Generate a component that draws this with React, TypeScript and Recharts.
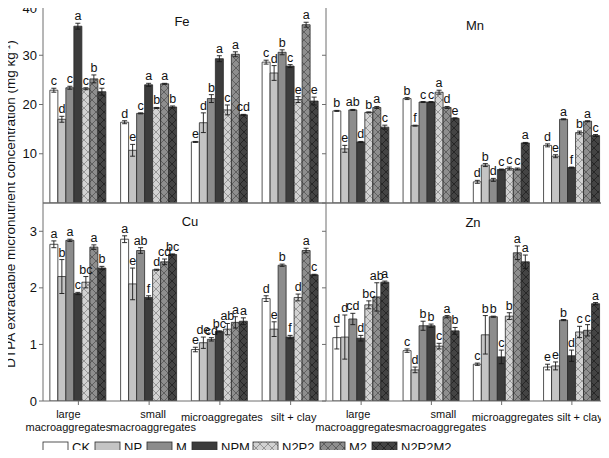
import React from "react";
import { BarChart, Bar, XAxis, YAxis, ErrorBar, LabelList, ReferenceLine } from "recharts";

const categories = ["large macroaggregates", "small macroaggregates", "microaggregates", "silt + clay"];
const categoryLines = [["large", "macroaggregates"], ["small", "macroaggregates"], ["microaggregates"], ["silt + clay"]];
const treatments = ["CK", "NP", "M", "NPM", "N2P2", "M2", "N2P2M2"];

// rows = treatment, columns = aggregate class
const feMean = [
  [22.9, 16.4, 12.4, 28.6],
  [17.0, 10.7, 16.3, 26.4],
  [23.4, 18.2, 21.2, 30.6],
  [35.9, 24.0, 29.3, 27.8],
  [23.2, 19.3, 18.9, 21.0],
  [25.2, 24.2, 30.2, 36.2],
  [22.6, 19.5, 17.9, 20.7],
];
const feErr = [
  [0.4, 0.3, 0.1, 0.4],
  [0.6, 1.2, 2.0, 1.5],
  [0.3, 0.1, 0.8, 0.5],
  [0.6, 0.3, 0.6, 0.3],
  [0.2, 0.1, 1.0, 0.6],
  [0.8, 0.1, 0.5, 0.5],
  [0.7, 0.2, 0.1, 0.8],
];
const feLetters = [
  ["c", "d", "e", "c"],
  ["d", "e", "d", "d"],
  ["c", "c", "b", "b"],
  ["a", "a", "a", "c"],
  ["c", "b", "c", "e"],
  ["b", "a", "a", "a"],
  ["c", "b", "cd", "e"],
];

const mnMean = [
  [18.7, 21.2, 4.3, 11.7],
  [11.0, 15.7, 7.7, 9.5],
  [18.9, 20.5, 4.7, 17.0],
  [12.4, 20.5, 6.8, 7.2],
  [18.4, 22.5, 7.0, 14.3],
  [19.4, 19.4, 6.9, 16.6],
  [15.4, 17.2, 12.2, 13.7],
];
const mnErr = [
  [0.1, 0.2, 0.3, 0.3],
  [0.7, 0.1, 0.3, 0.3],
  [0.1, 0.1, 0.3, 0.1],
  [0.1, 0.1, 0.1, 0.1],
  [0.1, 0.4, 0.3, 0.3],
  [0.2, 0.2, 0.2, 0.1],
  [0.4, 0.1, 0.1, 0.2],
];
const mnLetters = [
  ["b", "b", "d", "d"],
  ["e", "f", "b", "e"],
  ["ab", "c", "d", "a"],
  ["d", "c", "c", "f"],
  ["b", "a", "c", "b"],
  ["a", "d", "c", "a"],
  ["c", "e", "a", "c"],
];

const cuMean = [
  [2.77, 2.86, 0.91, 1.81],
  [2.2, 2.07, 1.03, 1.27],
  [2.84, 2.66, 1.09, 2.4],
  [1.9, 1.83, 1.23, 1.13],
  [2.1, 2.32, 1.27, 1.83],
  [2.72, 2.46, 1.39, 2.66],
  [2.35, 2.59, 1.41, 2.23],
];
const cuErr = [
  [0.06, 0.06, 0.04, 0.05],
  [0.3, 0.28, 0.1, 0.13],
  [0.02, 0.05, 0.03, 0.02],
  [0.02, 0.03, 0.01, 0.03],
  [0.1, 0.01, 0.1, 0.06],
  [0.04, 0.05, 0.1, 0.04],
  [0.03, 0.01, 0.06, 0.01],
];
const cuLetters = [
  ["a", "a", "e", "d"],
  ["b", "e", "de", "e"],
  ["a", "ab", "cd", "b"],
  ["c", "f", "bc", "f"],
  ["bc", "d", "ab", "d"],
  ["a", "cd", "a", "a"],
  ["b", "bc", "a", "c"],
];

const znMean = [
  [1.12, 0.89, 0.65, 0.6],
  [1.13, 0.55, 1.17, 0.62],
  [1.45, 1.33, 1.49, 1.43],
  [1.11, 1.33, 0.78, 0.8],
  [1.7, 0.97, 1.5, 1.22],
  [1.84, 1.49, 2.62, 1.25],
  [2.1, 1.24, 2.46, 1.72],
];
const znErr = [
  [0.2, 0.03, 0.02, 0.05],
  [0.39, 0.05, 0.34, 0.07],
  [0.1, 0.08, 0.01, 0.01],
  [0.05, 0.03, 0.12, 0.1],
  [0.07, 0.05, 0.06, 0.1],
  [0.25, 0.02, 0.12, 0.1],
  [0.02, 0.06, 0.12, 0.02],
];
const znLetters = [
  ["d", "c", "c", "e"],
  ["d", "d", "b", "e"],
  ["cd", "b", "b", "b"],
  ["d", "b", "c", "d"],
  ["bc", "c", "b", "c"],
  ["ab", "a", "a", "c"],
  ["a", "b", "a", "a"],
];

const fills = ["#ffffff", "#c4c4c4", "#8c8c8c", "#3c3c3c", "url(#hatchLight)", "url(#hatchMid)", "url(#hatchDark)"];
const FONT = "'Liberation Sans', Arial, Helvetica, sans-serif";
const AXIS = "#6e6e6e";
const legendX = [43, 95, 147, 192, 253, 320, 372];

function makeRows(mean: number[][], err: number[][]) {
  return categories.map((cat, ci) => {
    const row: any = { cat };
    treatments.forEach((_, ti) => {
      row[`v${ti}`] = mean[ti][ci];
      row[`e${ti}`] = err[ti][ci];
    });
    return row;
  });
}

const letterContent = (mean: number[][], err: number[][], letters: string[][], ti: number) => (p: any) => {
  const vb = p.viewBox && p.viewBox.width != null ? p.viewBox : p;
  const idx = p.index;
  if (idx == null || vb.height == null) return null;
  const v = mean[ti][idx];
  const px = v > 0 ? vb.height / v : 0;
  const top = vb.y - err[ti][idx] * px;
  return (
    <text x={vb.x + vb.width / 2} y={top - 3} textAnchor="middle" fontSize={12.5} fontFamily={FONT} fill="#111">
      {letters[ti][idx]}
    </text>
  );
};

const makeCatTick = (offsets: number[]) => (p: any) => {
  const ci = categories.indexOf(p.payload.value);
  const lines = categoryLines[ci] || [];
  const x = p.x + (offsets[ci] || 0);
  return (
    <g>
      {lines.map((ln, li) => (
        <text key={li} x={x} y={p.y + (lines.length > 1 ? 11 + li * 12.5 : 14)} textAnchor="middle" fontSize={11} fontFamily={FONT} fill="#111">
          {ln}
        </text>
      ))}
    </g>
  );
};

function Panel(props: any) {
  const { left, top, mean, err, letters, domain, ticks, showYLabels, bottom, tickOffsets, rightBorder } = props;
  const data = makeRows(mean, err);
  const yw = showYLabels ? 43 : 8;
  const width = yw + (showYLabels ? 283 : 281) + (rightBorder ? 1 : 0);
  const xh = bottom ? 40 : 1;
  const height = 6 + (bottom ? 198 : 197) + xh;
  return (
    <div style={{ position: "absolute", left, top }}>
      <BarChart width={width} height={height} data={data} margin={{ top: 6, right: 0, bottom: 0, left: 0 }} barCategoryGap="9.7%" barGap={0}>
        <XAxis
          dataKey="cat"
          height={xh}
          stroke={AXIS}
          tickSize={4}
          tickLine={bottom ? { stroke: AXIS } : false}
          tick={bottom ? makeCatTick(tickOffsets) : false}
          interval={0}
        />
        <YAxis
          yAxisId="l"
          width={yw}
          domain={domain}
          ticks={ticks}
          stroke={AXIS}
          tickSize={4}
          tickMargin={2}
          tickLine={{ stroke: AXIS }}
          tick={{ fontSize: 13, fill: "#111", fontFamily: FONT }}
          tickFormatter={(v: number) => (showYLabels ? String(v) : "")}
          allowDataOverflow
        />
        {rightBorder && (
          <YAxis yAxisId="r" orientation="right" width={1} domain={[0, 1]} ticks={[0, 1]} stroke={AXIS} tick={false} tickLine={false} />
        )}
        <ReferenceLine yAxisId="l" y={domain[1]} stroke={AXIS} strokeWidth={1} ifOverflow="visible" />
        {treatments.map((t, ti) => (
          <Bar key={t} yAxisId="l" dataKey={`v${ti}`} fill={fills[ti]} stroke="#2a2a2a" strokeWidth={0.8} isAnimationActive={false}>
            <ErrorBar dataKey={`e${ti}`} width={2.5} stroke="#1a1a1a" strokeWidth={0.9} direction="y" />
            <LabelList dataKey={`v${ti}`} content={letterContent(mean, err, letters, ti)} />
          </Bar>
        ))}
      </BarChart>
    </div>
  );
}

export default function App() {
  return (
    <div style={{ position: "relative", width: 609, height: 458, fontFamily: FONT, background: "#fff", margin: -8 }}>
      <style>{".recharts-surface{overflow:visible}"}</style>
      <svg width={609} height={458} style={{ position: "absolute", left: 0, top: 0 }}>
        <defs>
          <pattern id="hatchLight" width={8} height={8} patternUnits="userSpaceOnUse">
            <rect width={8} height={8} fill="#d2d2d2" />
            <path d="M0,0 L8,8 M8,0 L0,8" stroke="#7c7c7c" strokeWidth={0.7} />
          </pattern>
          <pattern id="hatchMid" width={8} height={8} patternUnits="userSpaceOnUse">
            <rect width={8} height={8} fill="#8e8e8e" />
            <path d="M0,0 L8,8 M8,0 L0,8" stroke="#4a4a4a" strokeWidth={0.7} />
          </pattern>
          <pattern id="hatchDark" width={8} height={8} patternUnits="userSpaceOnUse">
            <rect width={8} height={8} fill="#444444" />
            <path d="M0,0 L8,8 M8,0 L0,8" stroke="#1a1a1a" strokeWidth={0.7} />
          </pattern>
        </defs>
        <text transform="translate(15,204) rotate(-90)" textAnchor="middle" fontSize={13.5} fontFamily={FONT} fill="#111">
          DTPA extractable micronutrient concentration (mg kg
          <tspan dy={-5} fontSize={8.5}>-1</tspan>
          <tspan dy={5}>)</tspan>
        </text>
        <text x={182} y={26} textAnchor="middle" fontSize={13} fill="#111">Fe</text>
        <text x={475} y={30} textAnchor="middle" fontSize={13} fill="#111">Mn</text>
        <text x={190} y={226} textAnchor="middle" fontSize={13} fill="#111">Cu</text>
        <text x={473} y={227} textAnchor="middle" fontSize={13} fill="#111">Zn</text>
        {treatments.map((t, ti) => (
          <g key={t}>
            <rect x={legendX[ti]} y={442} width={25} height={10} fill={fills[ti]} stroke="#2a2a2a" strokeWidth={0.8} />
            <text x={legendX[ti] + 29} y={452} fontSize={13} fill="#111">{t}</text>
          </g>
        ))}
      </svg>
      <Panel left={0} top={0} mean={feMean} err={feErr} letters={feLetters} domain={[0, 40]} ticks={[0, 10, 20, 30, 40]} showYLabels />
      <Panel left={318} top={0} mean={mnMean} err={mnErr} letters={mnLetters} domain={[0, 40]} ticks={[0, 10, 20, 30, 40]} rightBorder />
      <Panel left={0} top={197} mean={cuMean} err={cuErr} letters={cuLetters} domain={[0, 3.5]} ticks={[0, 1, 2, 3]} showYLabels bottom tickOffsets={[-10, 4, 2, 3]} />
      <Panel left={318} top={197} mean={znMean} err={znErr} letters={znLetters} domain={[0, 3.5]} ticks={[0, 1, 2, 3]} bottom rightBorder tickOffsets={[-3, 12, 11, 8]} />
    </div>
  );
}
